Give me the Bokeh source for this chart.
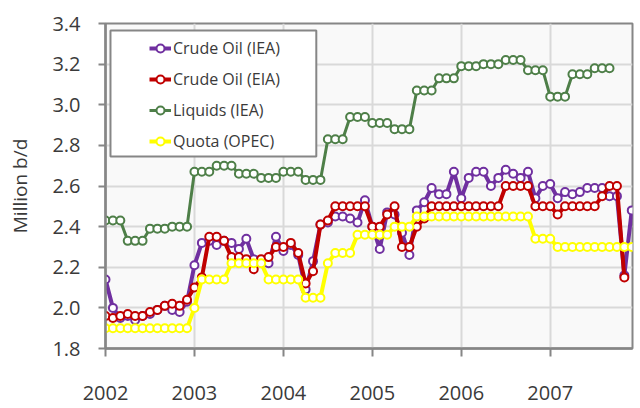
import numpy as np
from bokeh.plotting import figure
from bokeh.models import (ColumnDataSource, FixedTicker, Legend, LegendItem,
                          BoxAnnotation)
from bokeh.embed import file_html
from bokeh.resources import INLINE

nan = float("nan")

# ---- data (monthly, Jan 2002 .. Dec 2007) ----
start_year = 2002
n_months = 72

crude_iea = [2.14, 2.00, 1.95, 1.96, 1.94, 1.96, 1.97, 1.99, 2.01, 1.99, 1.98, 2.03,
             2.21, 2.32, 2.33, 2.31, 2.33, 2.32, 2.29, 2.34, 2.24, 2.23, 2.22, 2.35,
             2.28, 2.31, 2.26, 2.09, 2.23, 2.41, 2.42, 2.45, 2.45, 2.44, 2.42, 2.53,
             2.40, 2.29, 2.47, 2.46, 2.37, 2.26, 2.48, 2.52, 2.59, 2.56, 2.56, 2.67,
             2.54, 2.64, 2.67, 2.67, 2.60, 2.64, 2.68, 2.66, 2.64, 2.67, 2.54, 2.60,
             2.61, 2.54, 2.57, 2.56, 2.57, 2.59, 2.59, 2.59, 2.55, 2.55, 2.16, 2.48]

crude_eia = [1.96, 1.95, 1.96, 1.97, 1.96, 1.96, 1.98, 1.99, 2.01, 2.02, 2.01, 2.04,
             2.10, 2.15, 2.35, 2.35, 2.33, 2.25, 2.25, 2.24, 2.19, 2.24, 2.25, 2.30,
             2.30, 2.32, 2.27, 2.12, 2.18, 2.41, 2.43, 2.50, 2.50, 2.50, 2.50, 2.50,
             2.40, 2.40, 2.46, 2.50, 2.30, 2.30, 2.40, 2.44, 2.50, 2.50, 2.50, 2.50,
             2.50, 2.50, 2.50, 2.50, 2.50, 2.50, 2.60, 2.60, 2.60, 2.60, 2.50, 2.50,
             2.50, 2.46, 2.50, 2.50, 2.50, 2.50, 2.50, 2.55, 2.60, 2.60, 2.15, nan]

liquids_iea = [2.43, 2.43, 2.43, 2.33, 2.33, 2.33, 2.39, 2.39, 2.39, 2.40, 2.40, 2.40,
               2.67, 2.67, 2.67, 2.70, 2.70, 2.70, 2.66, 2.66, 2.66, 2.64, 2.64, 2.64,
               2.67, 2.67, 2.67, 2.63, 2.63, 2.63, 2.83, 2.83, 2.83, 2.94, 2.94, 2.94,
               2.91, 2.91, 2.91, 2.88, 2.88, 2.88, 3.07, 3.07, 3.07, 3.13, 3.13, 3.13,
               3.19, 3.19, 3.19, 3.20, 3.20, 3.20, 3.22, 3.22, 3.22, 3.17, 3.17, 3.17,
               3.04, 3.04, 3.04, 3.15, 3.15, 3.15, 3.18, 3.18, 3.18, nan, nan, nan]

quota_opec = [1.90, 1.90, 1.90, 1.90, 1.90, 1.90, 1.90, 1.90, 1.90, 1.90, 1.90, 1.90,
              2.00, 2.14, 2.14, 2.14, 2.14, 2.22, 2.22, 2.22, 2.22, 2.22, 2.14, 2.14,
              2.14, 2.14, 2.14, 2.05, 2.05, 2.05, 2.22, 2.27, 2.27, 2.27, 2.36, 2.36,
              2.36, 2.36, 2.36, 2.40, 2.40, 2.40, 2.45, 2.45, 2.45, 2.45, 2.45, 2.45,
              2.45, 2.45, 2.45, 2.45, 2.45, 2.45, 2.45, 2.45, 2.45, 2.45, 2.34, 2.34,
              2.34, 2.30, 2.30, 2.30, 2.30, 2.30, 2.30, 2.30, 2.30, 2.30, 2.30, 2.30]

series_names = ["Crude Oil (IEA)", "Crude Oil (EIA)", "Liquids (IEA)", "Quota (OPEC)"]
series_colors = ["#7030A0", "#C00000", "#4E7F48", "#FFFF00"]
year_ticks = [2002, 2003, 2004, 2005, 2006, 2007]
y_ticks = [1.8, 2.0, 2.2, 2.4, 2.6, 2.8, 3.0, 3.2, 3.4]

x = [start_year + m / 12.0 for m in range(n_months)]

FONT = "Open Sans"
TXT = "#3a3a3a"
GRAY = "#868686"

p = figure(width=636, height=404, output_backend="svg", toolbar_location=None,
           x_range=(2002, 2007.925), y_range=(1.8, 3.4),
           min_border_left=105, min_border_right=4, min_border_top=23,
           min_border_bottom=56)
p.background_fill_color = "#f9f9f9"
p.border_fill_color = "white"
p.outline_line_color = GRAY
p.outline_line_width = 2

# axes
p.xaxis.ticker = FixedTicker(ticks=year_ticks)
p.xaxis.major_label_overrides = {t: str(t) for t in year_ticks}
p.yaxis.ticker = FixedTicker(ticks=y_ticks)
p.yaxis.major_label_overrides = {t: "%.1f" % t for t in y_ticks}
for ax in (p.xaxis, p.yaxis):
    ax.axis_line_color = GRAY
    ax.axis_line_width = 2.5
    ax.major_tick_line_color = GRAY
    ax.major_tick_line_width = 2
    ax.major_tick_in = 0
    ax.minor_tick_line_color = None
    ax.major_label_text_font = FONT
    ax.major_label_text_font_size = "20px"
    ax.major_label_text_color = TXT
p.xaxis.major_tick_out = 8
p.xaxis.major_label_standoff = 29
p.yaxis.major_tick_out = 7
p.yaxis.major_label_standoff = 18
p.yaxis.axis_label = "Million b/d"
p.yaxis.axis_label_text_font = FONT
p.yaxis.axis_label_text_font_size = "19px"
p.yaxis.axis_label_text_font_style = "normal"
p.yaxis.axis_label_text_color = TXT
p.yaxis.axis_label_standoff = 16

p.xgrid.ticker = FixedTicker(ticks=year_ticks)
p.ygrid.ticker = FixedTicker(ticks=y_ticks)
for g in (p.xgrid, p.ygrid):
    g.grid_line_color = "#d9d9d9"
    g.grid_line_width = 2

data_list = [crude_iea, crude_eia, liquids_iea, quota_opec]
widths = [4, 4, 3, 4]
renderers = {}
draw_order = [2, 0, 1, 3]
for i in draw_order:
    src = ColumnDataSource(dict(x=x, y=data_list[i]))
    lr = p.line("x", "y", source=src, line_color=series_colors[i],
                line_width=widths[i])
    sr = p.scatter("x", "y", source=src, size=8, marker="circle",
                   fill_color="white", line_color=series_colors[i],
                   line_width=2)
    renderers[i] = [lr, sr]

# legend frame
box = BoxAnnotation(left=2002.056, right=2004.37, top=3.366, bottom=2.745,
                    fill_color="white", fill_alpha=1.0,
                    line_color=GRAY, line_width=2, line_alpha=1.0)
p.add_layout(box)

legend = Legend(items=[LegendItem(label=series_names[i], renderers=renderers[i])
                       for i in range(4)],
                location=(44, 196), orientation="vertical")
legend.padding = 0
legend.margin = 0
legend.spacing = 9
legend.glyph_width = 22
legend.glyph_height = 20
legend.label_height = 20
legend.label_standoff = 2
legend.label_text_font = FONT
legend.label_text_font_size = "16px"
legend.label_text_color = TXT
legend.border_line_alpha = 0
legend.background_fill_alpha = 0
p.add_layout(legend, "center")

open("out.html", "w").write(file_html(p, INLINE))
